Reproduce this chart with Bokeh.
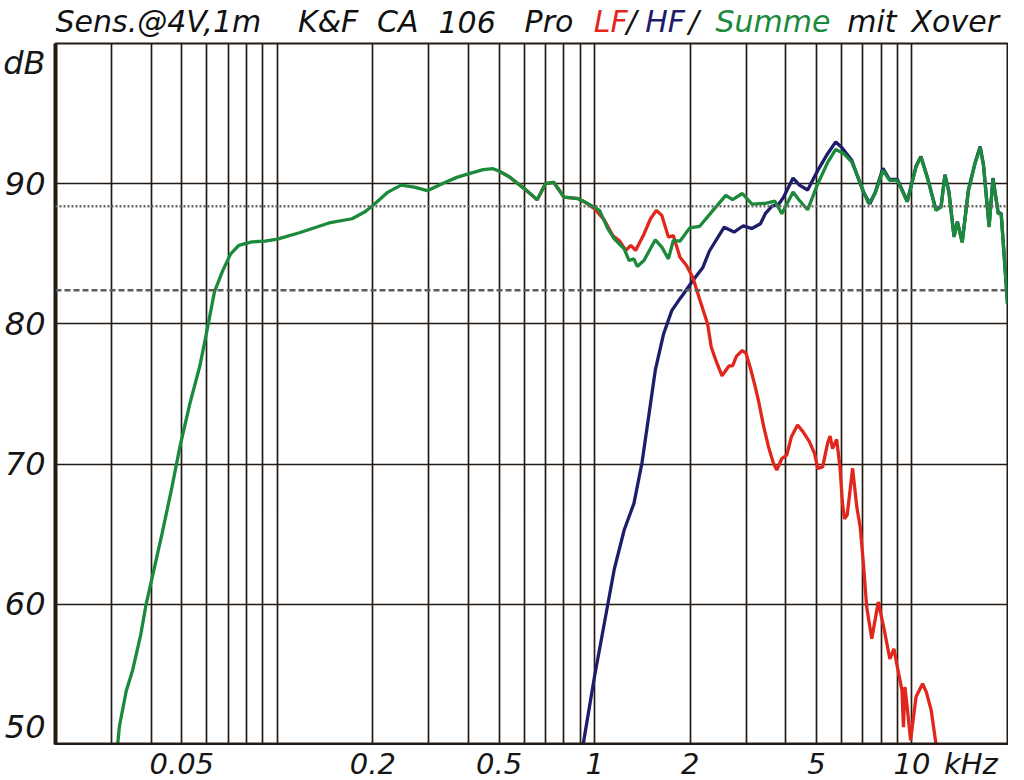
from bokeh.plotting import figure
from bokeh.layouts import column
from bokeh.models import Range1d, FixedTicker, Span, ColumnDataSource
from bokeh.core.properties import value
from bokeh.embed import file_html
from bokeh.resources import INLINE

# ---------------- data ----------------
green_f = [0.0314, 0.0318, 0.0334, 0.0350, 0.0371, 0.0386, 0.0433, 0.0465, 0.0494, 0.0530,
           0.0570, 0.0600, 0.0634, 0.0673, 0.0713, 0.0756, 0.0832, 0.0914, 0.100, 0.1174,
           0.1455, 0.172, 0.189, 0.200, 0.2233, 0.2455, 0.270, 0.297, 0.3346, 0.368,
           0.400, 0.4452, 0.478, 0.500, 0.538, 0.600, 0.659, 0.700, 0.743, 0.800,
           0.888, 0.953, 1.0, 1.036, 1.10, 1.153, 1.239, 1.284, 1.33, 1.362,
           1.43, 1.553, 1.628, 1.708, 1.77, 1.857, 1.994, 2.14, 2.36, 2.59,
           2.72, 2.92, 3.13, 3.45, 3.7, 3.89, 4.22, 4.42, 4.69, 5.05,
           5.42, 5.75, 6.1, 6.46, 6.95, 7.3, 7.65, 8.1, 8.5, 9.0,
           9.66, 10.3, 10.67, 11.2, 11.9, 12.35, 12.7, 13.07, 13.57, 13.9,
           14.4, 15.06, 15.8, 16.4, 16.8, 17.5, 18.0, 18.7, 19.1, 19.5, 20.0]
green_db = [50.0, 51.3, 53.8, 55.3, 57.8, 60.0, 65.0, 68.3, 71.3, 74.3,
            77.0, 79.5, 82.3, 83.8, 85.0, 85.6, 85.85, 85.9, 86.05, 86.5,
            87.2, 87.5, 88.0, 88.45, 89.4, 89.9, 89.75, 89.5, 90.05, 90.45,
            90.7, 91.0, 91.07, 90.9, 90.5, 89.65, 88.85, 90.0, 90.1, 89.05,
            88.93, 88.57, 88.3, 88.1, 86.8, 86.07, 85.36, 84.52, 84.64, 84.1,
            84.52, 86.0, 85.48, 84.64, 85.95, 85.9, 86.85, 86.95, 88.1, 89.17,
            88.86, 89.3, 88.55, 88.6, 88.75, 87.86, 89.4, 88.8, 88.14, 90.0,
            91.5, 92.45, 92.14, 91.55, 89.76, 88.57, 89.29, 90.95, 90.24, 90.24,
            88.7, 91.2, 91.9, 90.36, 88.1, 88.33, 90.6, 89.4, 86.2, 87.26,
            85.8, 89.5, 91.43, 92.6, 91.3, 86.9, 90.36, 87.86, 87.86, 85.0, 81.43]

blue_f = [0.920, 1.0, 1.074, 1.153, 1.239, 1.33, 1.41, 1.48, 1.553, 1.65,
          1.75, 1.857, 1.9, 2.04, 2.19, 2.3, 2.56, 2.75, 2.94, 3.13,
          3.33, 3.45, 3.62, 3.79, 3.93, 4.22, 4.42, 4.69, 5.05, 5.42,
          5.75, 6.0, 6.46, 7.03, 7.37, 7.65, 8.1, 8.5, 9.0, 9.66,
          10.3, 10.67, 11.2, 11.9, 12.35, 12.7, 13.07, 13.57, 13.9, 14.4,
          15.06, 15.8, 16.4, 16.8, 17.5, 18.0, 18.7, 19.1, 19.5, 20.0]
blue_db = [50.0, 54.9, 58.7, 62.5, 65.3, 67.2, 70.1, 73.4, 76.7, 79.3,
           80.95, 81.8, 82.1, 83.1, 84.0, 85.2, 86.9, 86.55, 87.0, 86.8,
           87.14, 87.86, 88.4, 88.5, 89.0, 90.4, 89.9, 89.55, 90.95, 92.14,
           92.98, 92.6, 91.67, 89.4, 88.57, 89.35, 91.1, 90.3, 90.3, 88.75,
           91.25, 91.95, 90.4, 88.15, 88.38, 90.65, 89.45, 86.25, 87.3, 85.85,
           89.55, 91.48, 92.65, 91.35, 86.95, 90.4, 87.9, 87.9, 85.05, 81.45]

red_f = [0.5, 0.538, 0.6, 0.659, 0.7, 0.743, 0.8, 0.888, 0.931, 1.0,
         1.074, 1.14, 1.195, 1.254, 1.3, 1.346, 1.43, 1.5, 1.565, 1.628,
         1.708, 1.77, 1.857, 1.948, 2.04, 2.14, 2.27, 2.33, 2.41, 2.52,
         2.65, 2.72, 2.8, 2.92, 3.0, 3.1, 3.2, 3.28, 3.41, 3.53,
         3.66, 3.75, 3.89, 4.03, 4.17, 4.36, 4.54, 4.75, 4.93, 5.05,
         5.23, 5.42, 5.52, 5.62, 5.79, 5.93, 6.04, 6.13, 6.25, 6.5,
         6.7, 6.87, 7.03, 7.2, 7.47, 7.83, 8.14, 8.52, 8.77, 9.0,
         9.3, 9.4, 9.5, 9.66, 9.9, 10.3, 10.8, 11.1, 11.5, 11.9, 12.1]
red_db = [90.9, 90.5, 89.65, 88.85, 90.0, 90.1, 89.05, 88.93, 88.7, 88.2,
          87.4, 86.3, 85.95, 85.24, 85.6, 85.24, 86.4, 87.5, 88.1, 87.74,
          86.19, 86.3, 84.76, 84.17, 83.3, 81.8, 80.0, 78.35, 77.4, 76.3,
          77.0, 77.0, 77.7, 78.1, 77.9, 76.8, 75.6, 74.57, 72.67, 71.24,
          70.05, 69.57, 70.4, 70.64, 71.95, 72.79, 72.3, 71.6, 70.76, 69.7,
          69.8, 71.48, 72.0, 71.1, 71.76, 69.8, 67.2, 66.1, 66.36, 69.7,
          66.95, 65.5, 62.9, 59.8, 57.55, 60.17, 58.4, 56.1, 56.83, 55.5,
          53.86, 51.24, 54.1, 52.67, 50.3, 53.4, 54.33, 53.74, 52.43, 50.05, 48.5]

grid_freqs = [0.03, 0.04, 0.05, 0.06, 0.07, 0.08, 0.09,
              0.1, 0.2, 0.3, 0.4, 0.5, 0.6, 0.7, 0.8, 0.9,
              1, 2, 3, 4, 5, 6, 7, 8, 9, 10]
xtick_values = [0.05, 0.2, 0.5, 1, 2, 5, 10]
xtick_labels = ["0.05", "0.2", "0.5", "1", "2", "5", "10"]
x_unit = "kHz"
ytick_values = [50, 60, 70, 80, 90]
y_unit = "dB"
y_unit_pos = 98.6
ygrid_values = [60, 70, 80, 90]
ref_dotted_db = 88.4
ref_dashed_db = 82.4

title_parts = ["Sens.@4V,1m", "K&F", "CA", "106", "Pro", "LF", "/", "HF", "/", "Summe", "mit", "Xover"]
title_colors = ["#111111", "#111111", "#111111", "#111111", "#111111", "#e3261c", "#111111",
                "#1e1d6b", "#111111", "#1b8a3a", "#111111", "#111111"]
title_x = [53, 298, 378, 440, 527, 597, 630, 649, 693, 720, 853, 918]

RED = "#e3261c"
BLUE = "#1e1d6b"
GREEN = "#1b8a3a"
INK = "#231a14"
TXT = "#161616"
FONT = "DejaVu Sans"
W = 1008
LB = 45
RB = 1
TOP_H = 42
MAIN_H = 703
BOT_H = 35

# ---------------- title strip ----------------
t = figure(width=W, height=TOP_H, x_range=Range1d(LB + 8, W - RB + 8), y_range=Range1d(0, TOP_H),
           output_backend="svg", toolbar_location=None,
           x_axis_location=None, y_axis_location=None,
           min_border_left=LB, min_border_right=RB, min_border_top=0, min_border_bottom=0)
t.outline_line_color = None
t.grid.visible = False
tsrc = ColumnDataSource(dict(x=title_x, y=[21] * len(title_x), text=title_parts, color=title_colors))
t.text(x="x", y="y", text="text", source=tsrc, text_color="color",
       text_font=value(FONT), text_font_style="italic", text_font_size="30px",
       text_align="left", text_baseline="middle")

# ---------------- main plot ----------------
p = figure(width=W, height=MAIN_H, x_axis_type="log",
           x_range=Range1d(0.02, 20), y_range=Range1d(50, 100),
           output_backend="svg", toolbar_location=None, x_axis_location=None,
           min_border_left=LB, min_border_right=RB, min_border_top=1, min_border_bottom=1)
p.background_fill_color = "white"
p.border_fill_color = "white"
p.outline_line_color = INK
p.outline_line_width = 2

p.xgrid.ticker = FixedTicker(ticks=grid_freqs)
p.ygrid.ticker = FixedTicker(ticks=ygrid_values)
p.grid.grid_line_color = INK
p.grid.grid_line_width = 1.7

p.yaxis.ticker = FixedTicker(ticks=ytick_values + [y_unit_pos])
p.yaxis.major_label_overrides = {y_unit_pos: y_unit}
p.yaxis.axis_line_color = INK
p.yaxis.axis_line_width = 4
p.yaxis.major_tick_line_color = None
p.yaxis.minor_tick_line_color = None
p.yaxis.major_label_text_font = FONT
p.yaxis.major_label_text_font_style = "italic"
p.yaxis.major_label_text_font_size = "32px"
p.yaxis.major_label_text_color = TXT
p.yaxis.major_label_standoff = 4

p.add_layout(Span(location=ref_dotted_db, dimension="width", line_color="#666666",
                  line_width=2.5, line_dash="2 2"))
p.add_layout(Span(location=ref_dashed_db, dimension="width", line_color="#5c5c5c",
                  line_width=2.5, line_dash="6 3"))
p.add_layout(Span(location=50, dimension="width", line_color=INK, line_width=4))

p.line(blue_f, blue_db, line_color=BLUE, line_width=3.3)
p.line(red_f, red_db, line_color=RED, line_width=3.3)
p.line(green_f, green_db, line_color=GREEN, line_width=3.3)

# ---------------- x tick label strip (shares the log x scale) ----------------
b = figure(width=W, height=BOT_H, x_axis_type="log", x_range=p.x_range, y_range=Range1d(0, BOT_H),
           output_backend="svg", toolbar_location=None,
           x_axis_location=None, y_axis_location=None,
           min_border_left=LB, min_border_right=RB, min_border_top=0, min_border_bottom=0)
b.outline_line_color = None
b.grid.visible = False
xsrc = ColumnDataSource(dict(x=xtick_values, y=[17] * len(xtick_values), text=xtick_labels))
b.text(x="x", y="y", text="text", source=xsrc, text_color=TXT,
       text_font=value(FONT), text_font_style="italic", text_font_size="29px",
       text_align="center", text_baseline="middle")
b.text(x=[xtick_values[-1]], y=[17], text=[x_unit], x_offset=32, text_color=TXT,
       text_font=value(FONT), text_font_style="italic", text_font_size="29px",
       text_align="left", text_baseline="middle")

layout = column(t, p, b, spacing=0)
open("out.html", "w").write(file_html(layout, INLINE))
